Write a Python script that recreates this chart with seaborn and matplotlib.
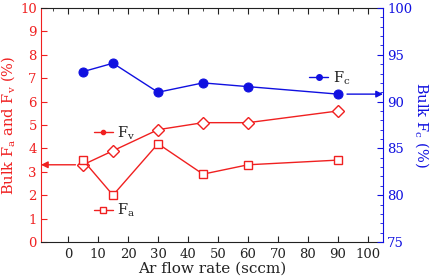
import matplotlib
matplotlib.use("Agg")
import matplotlib.pyplot as plt
from matplotlib.lines import Line2D
from matplotlib.ticker import MultipleLocator
import seaborn as sns
import pandas as pd

flow = [5, 15, 30, 45, 60, 90]
Fa = [3.5, 2.0, 4.2, 2.9, 3.3, 3.5]
Fv = [3.3, 3.9, 4.8, 5.1, 5.1, 5.6]
Fc = [93.2, 94.1, 91.0, 92.0, 91.6, 90.8]
xticks = [0, 10, 20, 30, 40, 50, 60, 70, 80, 90, 100]

RED = "#f02020"
BLUE = "#1010e0"

sns.set_style("ticks")
plt.rcParams["font.family"] = ["DejaVu Serif"]
plt.rcParams["mathtext.fontset"] = "dejavuserif"

df = pd.DataFrame({"flow": flow, "Fa": Fa, "Fv": Fv, "Fc": Fc})

fig = plt.figure(figsize=(4.33, 2.8), dpi=100)
ax = fig.add_axes([0.0947, 0.1357, 0.7898, 0.8357])
ax2 = ax.twinx()

sns.lineplot(data=df, x="flow", y="Fv", ax=ax, color=RED, marker="D", markersize=6,
             markerfacecolor="white", markeredgecolor=RED, markeredgewidth=1.0, linewidth=1.0)
sns.lineplot(data=df, x="flow", y="Fa", ax=ax, color=RED, marker="s", markersize=5.5,
             markerfacecolor="white", markeredgecolor=RED, markeredgewidth=1.0, linewidth=1.0)
sns.lineplot(data=df, x="flow", y="Fc", ax=ax2, color=BLUE, marker="o", markersize=6.5,
             markeredgecolor=BLUE, linewidth=1.0)

ax.set_xlim(-9, 105)
ax.set_ylim(0, 10)
ax2.set_ylim(75, 100)
ax.set_xticks(xticks)
ax.set_xticklabels([str(t) for t in xticks])
ax.xaxis.set_minor_locator(MultipleLocator(5))
ax.set_yticks(range(0, 11))
ax2.set_yticks(range(75, 101, 5))
ax2.yaxis.set_minor_locator(MultipleLocator(1))

fs = 9.5
ax.tick_params(axis="x", direction="in", top=True, length=4, labelsize=fs, colors="#222222", pad=4)
ax.tick_params(axis="x", which="minor", direction="in", top=True, bottom=False, length=2.5)
ax.tick_params(axis="y", direction="in", length=4, labelsize=fs, colors=RED, right=False, pad=3)
ax2.tick_params(axis="y", direction="in", length=4, labelsize=fs, colors=BLUE, pad=3)
ax2.tick_params(axis="y", which="minor", direction="in", length=2.5, colors=BLUE)

for s in ["top", "bottom"]:
    ax.spines[s].set_color("#222222")
    ax2.spines[s].set_visible(False)
ax.spines["left"].set_color(RED)
ax.spines["right"].set_visible(False)
ax2.spines["left"].set_visible(False)
ax2.spines["right"].set_color(BLUE)

lfs = 10.5
ax.set_xlabel("Ar flow rate (sccm)", fontsize=11, color="#222222", labelpad=1)
ax.set_ylabel(r"Bulk F$_\mathrm{a}$ and F$_\mathrm{v}$ (%)", fontsize=lfs, color=RED, labelpad=2)
ax2.set_ylabel(r"Bulk F$_\mathrm{c}$ (%)", fontsize=lfs, color=BLUE, rotation=270, labelpad=13)

# arrows
ax.annotate("", xy=(ax.get_xlim()[0], Fv[0]), xytext=(flow[0] - 2.5, Fv[0]),
            arrowprops=dict(arrowstyle="-|>", color=RED, lw=1.0, mutation_scale=10, shrinkA=0, shrinkB=0))
ax2.annotate("", xy=(ax.get_xlim()[1], Fc[-1]), xytext=(flow[-1] + 3, Fc[-1]),
             arrowprops=dict(arrowstyle="-|>", color=BLUE, lw=1.0, mutation_scale=10, shrinkA=0, shrinkB=0))

# inline legends
def small_legend(axis, handle, label, loc):
    leg = axis.legend(handles=[handle], labels=[label], loc="center left", bbox_to_anchor=loc,
                      frameon=False, handlelength=1.3, handletextpad=0.3, fontsize=lfs,
                      borderpad=0, borderaxespad=0)
    for t in leg.get_texts():
        t.set_color("#222222")
    return leg

hv = Line2D([], [], color=RED, marker="o", markersize=3, lw=1.0)
ha = Line2D([], [], color=RED, marker="s", markersize=4, markerfacecolor="white", lw=1.0)
hc = Line2D([], [], color=BLUE, marker="o", markersize=4, lw=1.0)
l1 = small_legend(ax, hv, r"F$_\mathrm{v}$", (0.155, 0.465))
ax.add_artist(l1)
l2 = small_legend(ax, ha, r"F$_\mathrm{a}$", (0.155, 0.135))
l3 = small_legend(ax2, hc, r"F$_\mathrm{c}$", (0.785, 0.70))

fig.savefig("out.png", dpi=100)
